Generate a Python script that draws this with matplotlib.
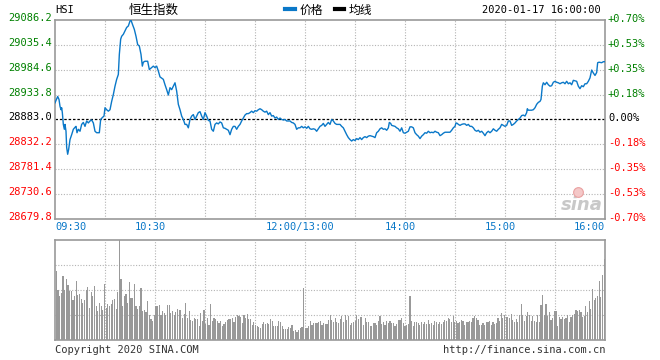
import numpy as np
import matplotlib.pyplot as plt
from matplotlib import transforms
from matplotlib.lines import Line2D

# previous close and price axis step
prev_close = 28883.0
step = 50.8

# minute index (0 = 09:30, 150 = 12:00/13:00, 330 = 16:00) and index level
t_am = [0, 1.6, 2.4, 3, 3.6, 4, 4.4, 5, 5.6, 6, 6.6, 7, 7.6, 8.2, 9, 10, 11, 12, 12.6, 13.2,
        14, 15, 16, 17, 18, 19, 20, 21, 22, 23, 24, 25, 26.6, 27.4, 28.4, 29.4, 30, 31, 32, 33,
        34, 35, 36, 37, 38, 38.6, 39.4, 40, 41, 42, 43, 44, 45, 45.6, 46.4, 47.6, 48.6, 49.6,
        50.6, 51.6, 52.4, 53, 54, 55.6, 56.6, 58, 59, 60, 61, 62, 63, 65, 66, 67, 68, 69, 70,
        71, 72, 73, 74, 75, 76, 77, 78, 79, 80, 81, 82, 83, 84, 85, 86, 87, 88, 89, 90, 91, 92,
        93, 94, 95, 96, 97, 98, 99, 100, 101, 102, 103, 104, 105, 106, 107, 108, 109, 110, 111,
        112, 113, 114, 115, 116, 117, 118, 119, 120, 121, 122, 123, 124, 125, 126, 127, 128,
        129, 130, 131, 132, 133, 134, 135, 136, 137, 138, 139, 141, 142, 143, 144, 145, 146,
        147, 148, 149, 150]
p_am = [28917, 28930, 28924, 28910, 28903, 28907, 28897, 28873, 28863, 28873, 28859, 28826,
        28812, 28822, 28842, 28852, 28863, 28867, 28869, 28856, 28863, 28859, 28873, 28877,
        28869, 28880, 28876, 28880, 28882, 28876, 28859, 28856, 28856, 28883, 28887, 28890,
        28907, 28903, 28900, 28903, 28920, 28934, 28951, 28965, 28975, 29016, 29047, 29053,
        29057, 29064, 29071, 29074, 29084, 29086, 29078, 29067, 29053, 29036, 29033, 29016,
        28992, 29000, 29002, 29002, 28985, 28989, 28992, 28989, 28992, 28982, 28970, 28965,
        28954, 28944, 28933, 28948, 28944, 28951, 28958, 28941, 28914, 28903, 28890, 28883,
        28873, 28873, 28866, 28883, 28890, 28893, 28883, 28890, 28897, 28899, 28890, 28883,
        28897, 28890, 28881, 28880, 28863, 28859, 28873, 28876, 28874, 28878, 28876, 28866,
        28865, 28863, 28861, 28852, 28863, 28869, 28869, 28863, 28869, 28873, 28880, 28886,
        28892, 28895, 28895, 28897, 28900, 28897, 28901, 28900, 28903, 28905, 28903, 28900,
        28898, 28900, 28893, 28897, 28890, 28891, 28886, 28888, 28883, 28886, 28883, 28882,
        28883, 28880, 28880, 28877, 28876, 28873, 28863, 28866, 28866, 28869, 28866, 28868]
t_pm = [151, 152, 153, 154, 155, 156, 157, 158, 159, 160, 161, 162, 163, 164, 165, 166, 167,
        168, 169, 171, 172, 173, 174, 175, 176, 177, 178, 179, 180, 181, 182, 183, 184, 185,
        186, 187, 188, 189, 190, 191, 192, 193, 194, 195, 196, 197, 198, 199, 200, 200.6, 201.4,
        202, 204, 205, 206, 207, 208, 209, 210, 211, 212, 213, 214, 215, 216, 217, 218, 219,
        220, 221, 222, 223, 224, 225, 226, 227, 228, 229, 230, 231, 232, 233, 234, 237, 238,
        239, 240, 240.6, 241.4, 242, 243, 244, 245, 246, 247, 248, 249, 250, 251, 252, 253, 254,
        255, 256, 257, 258, 259, 260, 261, 262, 263, 264, 265, 266, 267, 268, 269, 270, 271,
        272, 273, 274, 275, 276, 277, 278, 279, 280, 281, 282, 283, 283.4, 284, 286, 287, 288,
        289, 290, 291, 291.6, 292.4, 293, 294, 295, 296, 297, 298, 299, 300, 301, 302, 303, 304,
        305, 306, 307, 308, 309, 310, 311, 313, 314, 315, 316, 317, 318, 319, 320, 321, 322,
        323, 324, 325, 325.6, 326.4, 328, 329, 330]
p_pm = [28865, 28869, 28864, 28863, 28864, 28863, 28859, 28864, 28869, 28871, 28875, 28869,
        28873, 28877, 28873, 28883, 28880, 28875, 28873, 28873, 28869, 28866, 28859, 28852,
        28846, 28842, 28839, 28842, 28840, 28844, 28842, 28846, 28842, 28846, 28848, 28846,
        28849, 28850, 28849, 28848, 28846, 28856, 28859, 28864, 28866, 28863, 28864, 28861,
        28866, 28877, 28875, 28871, 28869, 28866, 28864, 28859, 28866, 28856, 28855, 28857,
        28859, 28868, 28868, 28866, 28856, 28852, 28849, 28844, 28849, 28852, 28856, 28855,
        28859, 28856, 28857, 28856, 28859, 28857, 28856, 28850, 28852, 28855, 28857, 28857,
        28861, 28866, 28869, 28876, 28875, 28873, 28871, 28873, 28874, 28874, 28871, 28873,
        28869, 28869, 28866, 28861, 28859, 28861, 28857, 28859, 28855, 28850, 28856, 28859,
        28856, 28859, 28864, 28861, 28859, 28863, 28866, 28873, 28871, 28869, 28871, 28880,
        28880, 28871, 28873, 28876, 28880, 28883, 28886, 28891, 28892, 28890, 28897, 28905,
        28902, 28902, 28903, 28907, 28914, 28918, 28920, 28924, 28951, 28958, 28954, 28959,
        28954, 28951, 28952, 28959, 28961, 28959, 28958, 28956, 28958, 28959, 28956, 28961,
        28956, 28958, 28954, 28963, 28961, 28951, 28946, 28952, 28950, 28956, 28956, 28961,
        28968, 28984, 28978, 28973, 28979, 28999, 29000, 28999, 29001, 29001]

# per-minute volume, relative units (panel top = 100)
vol_am = [69, 50, 44, 47, 64, 50, 61, 55, 49, 49, 40, 44, 59, 45, 46, 41, 37, 40, 50, 53,
          32, 48, 44, 54, 34, 29, 37, 34, 30, 56, 32, 36, 34, 36, 40, 41, 31, 48, 100, 61,
          34, 44, 46, 37, 58, 42, 42, 56, 34, 31, 34, 52, 29, 30, 28, 39, 25, 21, 19, 25,
          34, 34, 35, 25, 29, 27, 25, 35, 35, 27, 29, 25, 28, 31, 30, 30, 22, 26, 37, 22,
          29, 20, 19, 22, 21, 21, 14, 27, 19, 30, 16, 22, 15, 36, 19, 22, 21, 19, 17, 19,
          14, 16, 18, 20, 21, 21, 22, 18, 23, 25, 24, 23, 17, 25, 22, 26, 21, 21, 15, 18,
          15, 14, 13, 12, 16, 18, 16, 17, 16, 21, 19, 14, 14, 14, 19, 18, 14, 11, 11, 11,
          13, 12, 15, 9, 10, 8, 10, 12, 13, 52, 12, 12, 14, 19, 15, 17, 17, 17, 18, 19,
          15, 17, 16, 16, 20, 25]
vol_pm = [20, 18, 22, 18, 17, 21, 24, 18, 25, 20, 24, 15, 17, 18, 19, 25, 21, 23, 23, 15,
          22, 18, 18, 14, 14, 17, 17, 15, 19, 24, 16, 18, 15, 19, 17, 19, 17, 17, 14, 16,
          20, 20, 22, 17, 14, 15, 16, 44, 19, 14, 18, 18, 17, 15, 18, 16, 18, 16, 20, 16,
          17, 15, 19, 18, 16, 18, 16, 18, 20, 19, 22, 21, 18, 24, 18, 19, 17, 18, 20, 19,
          15, 18, 18, 19, 18, 22, 24, 22, 20, 15, 15, 17, 15, 18, 18, 19, 15, 18, 16, 17,
          22, 19, 27, 22, 25, 23, 23, 22, 26, 20, 18, 21, 18, 25, 36, 25, 19, 24, 28, 25,
          19, 24, 19, 18, 25, 18, 35, 45, 25, 36, 24, 28, 20, 22, 29, 29, 14, 23, 21, 23,
          21, 22, 25, 18, 23, 25, 26, 30, 29, 30, 28, 23, 24, 34, 28, 39, 31, 51, 40, 42,
          44, 59, 43, 65, 81]

x_ticks = [0, 60, 150, 210, 270, 330]
x_labels = ['09:30', '10:30', '12:00/13:00', '14:00', '15:00', '16:00']

BLUE = '#0a78c8'
GREEN = '#008000'
RED = '#ff0000'
GRID = '#b4b4b4'
EDGE = '#999999'
MONO = 'DejaVu Sans Mono'
CJK = ['Noto Sans CJK SC', 'DejaVu Sans']

fig = plt.figure(figsize=(6.6, 3.6), dpi=100)
ax = fig.add_axes([55 / 660, 1 - 219 / 360, 550 / 660, 199 / 360])
axv = fig.add_axes([55 / 660, 1 - 340 / 360, 550 / 660, 100 / 360])

y_ticks = prev_close + np.arange(-4, 5) * step
grid_x = np.arange(30, 330, 30)

for a in (ax, axv):
    a.set_xlim(0, 330)
    a.set_xticks([])
    a.set_yticks([])
    for s in a.spines.values():
        s.set_color(EDGE)
        s.set_linewidth(1.2)
    for gx in grid_x:
        a.axvline(gx, color=GRID, lw=0.8, ls=(0, (1, 1.5)), zorder=0)

# price panel
ax.set_ylim(y_ticks[0], y_ticks[-1])
for gy in y_ticks[1:-1]:
    if gy == prev_close:
        continue
    ax.axhline(gy, color=GRID, lw=0.8, ls=(0, (1, 1.5)), zorder=0)
ax.axhline(prev_close, color='black', lw=0.9, ls=(0, (2, 1.5)), zorder=1)

ax.plot(t_am + t_pm, p_am + p_pm, color=BLUE, lw=1.0, zorder=3)

# left and right axis labels
lbl_left = transforms.offset_copy(ax.get_yaxis_transform(), fig=fig, x=-3, y=2, units='dots')
lbl_right = transforms.offset_copy(ax.get_yaxis_transform(), fig=fig, x=3, y=1, units='dots')
for v in y_ticks:
    pct = (v - prev_close) / prev_close * 100
    if abs(pct) < 1e-9:
        col, ptxt = 'black', '0.00%'
    elif pct > 0:
        col, ptxt = GREEN, '+%.2f%%' % pct
    else:
        col, ptxt = RED, '%.2f%%' % pct
    ax.text(0, v, '%.1f' % v, transform=lbl_left, ha='right', va='center',
            color=col, fontsize=7.5, family=MONO)
    ax.text(1, v, ptxt, transform=lbl_right, ha='left', va='center',
            color=col, fontsize=7.5, family=MONO)

# time labels
xt = transforms.blended_transform_factory(ax.transData, ax.transAxes)
for i, (tx, tl) in enumerate(zip(x_ticks, x_labels)):
    if i == 0:
        ha, dx = 'left', 0
    elif i == len(x_ticks) - 1:
        ha, dx = 'right', 0
    else:
        ha, dx = 'center', -5
    tr = transforms.offset_copy(xt, fig=fig, x=dx, y=-8, units='dots')
    ax.text(tx, 0, tl, transform=tr, ha=ha, va='center', color=BLUE,
            fontsize=7.5, family=MONO)

# watermark
ax.text(0.996, 0.07, 'sina', transform=ax.transAxes, ha='right', va='center',
        fontsize=13, style='italic', weight='bold', color='#c8c8c8', zorder=2)
ax.plot([0.95], [0.135], 'o', transform=ax.transAxes, ms=7, mfc='#f4c8c8',
        mec='#eaa0a0', mew=0.8, zorder=2)

# volume panel
axv.set_ylim(0, 100)
for gy in (25, 50, 75):
    axv.axhline(gy, color=GRID, lw=0.8, ls=(0, (1, 1.5)), zorder=0)
vol = vol_am + vol_pm
axv.bar(np.linspace(0.8, 329.5, len(vol)), vol, width=0.7, color='#999999',
        linewidth=0, antialiased=False, zorder=2)

# header
fig.text(55 / 660, 1 - 10 / 360, 'HSI', ha='left', va='center', fontsize=7.5, family=MONO)
fig.text(154 / 660, 1 - 10 / 360, '恒生指数', ha='center', va='center', fontsize=9, family=CJK)
fig.text(601 / 660, 1 - 10 / 360, '2020-01-17 16:00:00', ha='right', va='center',
         fontsize=7.5, family=MONO)
handles = [Line2D([], [], color=BLUE, lw=3), Line2D([], [], color='black', lw=3)]
fig.legend(handles, ['价格', '均线'], loc='center', bbox_to_anchor=(0.498, 1 - 10 / 360),
           ncol=2, frameon=False, handlelength=0.8, handletextpad=0.4, columnspacing=1.0,
           prop={'family': CJK, 'size': 8.5}, borderaxespad=0, borderpad=0)

# footer
fig.text(55 / 660, 1 - 350 / 360, 'Copyright 2020 SINA.COM', ha='left', va='center',
         fontsize=7.5, family=MONO, color='#333333')
fig.text(605 / 660, 1 - 350 / 360, 'http://finance.sina.com.cn', ha='right', va='center',
         fontsize=7.5, family=MONO, color='#333333')

fig.savefig('out.png', dpi=100)
